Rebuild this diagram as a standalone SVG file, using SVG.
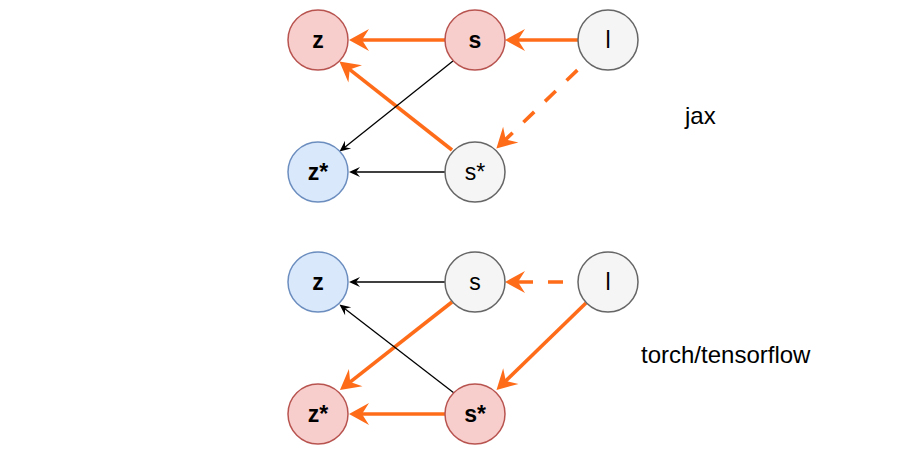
<svg xmlns="http://www.w3.org/2000/svg" width="910" height="460" viewBox="0 0 910 460">
<style>
.red{fill:#f8cecc;stroke:#b85450;stroke-width:1.5}
.blue{fill:#dae8fc;stroke:#6c8ebf;stroke-width:1.5}
.gray{fill:#f5f5f5;stroke:#666666;stroke-width:1.5}
.lbl{font-family:"Liberation Sans",Arial,sans-serif;font-size:23px;fill:#000;text-anchor:middle}
.b{font-weight:bold}
.cap{font-family:"Liberation Sans",Arial,sans-serif;font-size:24px;fill:#000}
.o{stroke:#fe6c1a;stroke-width:3.6;fill:none;marker-end:url(#ao)}
.d{stroke-dasharray:15 15}
.k{stroke:#000;stroke-width:1.3;fill:none;marker-end:url(#ak)}
</style>
<defs>
<marker id="ao" viewBox="-22 -12 24 24" markerWidth="24" markerHeight="24" refX="-12" refY="0" orient="auto" markerUnits="userSpaceOnUse">
<path d="M0,0 L-20,-11 L-13,0 L-20,11 Z" fill="#fe6c1a"/>
</marker>
<marker id="ak" viewBox="-12 -6 13 12" markerWidth="13" markerHeight="12" refX="-6" refY="0" orient="auto" markerUnits="userSpaceOnUse">
<path d="M0,0 L-11,-5 L-7,0 L-11,5 Z" fill="#000"/>
</marker>
</defs>
<g id="connectors">
<line class="o" x1="445" y1="40" x2="361" y2="40"/>
<line class="o" x1="578" y1="40" x2="517" y2="40"/>
<line class="o" x1="452" y1="150" x2="348.9" y2="68.9"/>
<line class="k" x1="453" y1="61" x2="344.2" y2="147.8"/>
<line class="k" x1="445" y1="172" x2="355" y2="172"/>
<line class="o d" stroke-dashoffset="17" x1="586.7" y1="61.1" x2="505" y2="140.1"/>
<line class="k" x1="445" y1="282" x2="355" y2="282"/>
<line class="o d" stroke-dashoffset="15" x1="578" y1="282" x2="517" y2="282"/>
<line class="o" x1="452" y1="302" x2="349.4" y2="382.6"/>
<line class="k" x1="454" y1="393" x2="344.2" y2="308.2"/>
<line class="o" x1="586" y1="303" x2="505.1" y2="381.6"/>
<line class="o" x1="445" y1="414" x2="361" y2="414"/>
</g>
<g id="jax-z"><circle class="red" cx="318" cy="40" r="30"/><text class="lbl b" x="318" y="48">z</text></g>
<g id="jax-s"><circle class="red" cx="475" cy="40" r="30"/><text class="lbl b" x="475" y="48">s</text></g>
<g id="jax-l"><circle class="gray" cx="608" cy="40" r="30"/><text class="lbl" x="608" y="48">l</text></g>
<g id="jax-zstar"><circle class="blue" cx="318" cy="172" r="30"/><text class="lbl b" x="318" y="180">z*</text></g>
<g id="jax-sstar"><circle class="gray" cx="475" cy="172" r="30"/><text class="lbl" x="475" y="180">s*</text></g>
<g id="tf-z"><circle class="blue" cx="318" cy="282" r="30"/><text class="lbl b" x="318" y="290">z</text></g>
<g id="tf-s"><circle class="gray" cx="475" cy="282" r="30"/><text class="lbl" x="475" y="290">s</text></g>
<g id="tf-l"><circle class="gray" cx="608" cy="282" r="30"/><text class="lbl" x="608" y="290">l</text></g>
<g id="tf-zstar"><circle class="red" cx="318" cy="414" r="30"/><text class="lbl b" x="318" y="422">z*</text></g>
<g id="tf-sstar"><circle class="red" cx="475" cy="414" r="30"/><text class="lbl b" x="475" y="422">s*</text></g>
<g id="label-jax"><text class="cap" x="685" y="124">jax</text></g>
<g id="label-tf"><text class="cap" x="641" y="363">torch/tensorflow</text></g>
</svg>
